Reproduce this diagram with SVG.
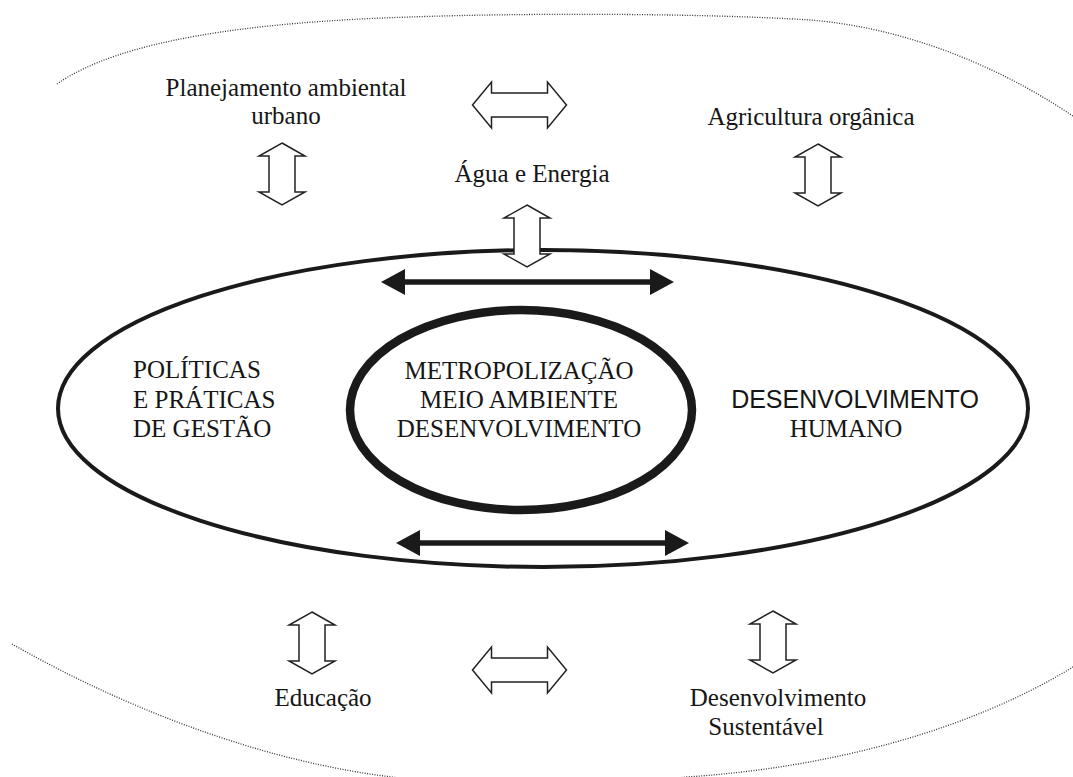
<svg xmlns="http://www.w3.org/2000/svg" width="1073" height="777" viewBox="0 0 1073 777">
<style>
.bg{fill:#ffffff}
.dot{fill:none;stroke:#333;stroke-width:1.3;stroke-dasharray:1 1.5}
.ell{fill:none;stroke:#1a1a1a}
.blk{fill:#ffffff;stroke:#222;stroke-width:1.5;stroke-linejoin:miter}
.thick{stroke:#1a1a1a;stroke-width:5.5;fill:none}
.t{font-family:"Liberation Serif","Times New Roman",serif;font-size:25px;fill:#161616}
.s{font-family:"Liberation Sans",Arial,sans-serif;font-size:25px;fill:#161616}
.m{text-anchor:middle}
</style>
<defs>
<path id="varrow" d="M0,-31 L23,-18 L13,-18 L13,18 L23,18 L0,31 L-23,18 L-13,18 L-13,-18 L-23,-18 Z"/>
<path id="harrow" d="M-47,0 L-28,-23 L-28,-12 L28,-12 L28,-23 L47,0 L28,23 L28,12 L-28,12 L-28,23 Z"/>
<marker id="head" markerUnits="userSpaceOnUse" markerWidth="24" markerHeight="26" viewBox="0 0 24 26" refX="0" refY="13" orient="auto-start-reverse">
<path d="M0,0 L24,13 L0,26 Z" fill="#1a1a1a"/>
</marker>
</defs>
<rect class="bg" x="0" y="0" width="1073" height="777"/>

<g id="outer-boundary">
<path class="dot" d="M57,84 C120,40 250,22 410,17 C520,13 700,13 810,20 C910,28 1010,70 1090,128"/>
<path class="dot" d="M12,644 C110,700 250,760 392,777 C480,788 600,788 686,777 C830,768 970,730 1073,667 L1090,657"/>
</g>

<g id="outer-ellipse">
<ellipse class="ell" cx="543" cy="408.5" rx="485" ry="158.5" stroke-width="4"/>
</g>

<g id="inner-ellipse">
<ellipse class="ell" cx="521" cy="410" rx="171" ry="100" stroke-width="8.5"/>
</g>

<g id="connectors">
<use href="#varrow" class="blk" transform="translate(282,174)"/>
<use href="#varrow" class="blk" transform="translate(818,175)"/>
<use href="#varrow" class="blk" transform="translate(527,236)"/>
<use href="#varrow" class="blk" transform="translate(312,643)"/>
<use href="#varrow" class="blk" transform="translate(773,642)"/>
<use href="#harrow" class="blk" transform="translate(519.5,105)"/>
<use href="#harrow" class="blk" transform="translate(519.5,670)"/>
<line class="thick" x1="405" y1="282" x2="650" y2="282" marker-start="url(#head)" marker-end="url(#head)"/>
<line class="thick" x1="420" y1="543" x2="665" y2="543" marker-start="url(#head)" marker-end="url(#head)"/>
</g>

<g id="node-planejamento">
<text class="t m" x="286" y="96">Planejamento ambiental</text>
<text class="t m" x="286" y="124">urbano</text>
</g>
<g id="node-agricultura">
<text class="t m" x="811" y="125">Agricultura orgânica</text>
</g>
<g id="node-agua">
<text class="t m" x="532" y="182">Água e Energia</text>
</g>
<g id="node-politicas">
<text class="t" x="133" y="378">POLÍTICAS</text>
<text class="t" x="133" y="408">E PRÁTICAS</text>
<text class="t" x="133" y="437">DE GESTÃO</text>
</g>
<g id="node-centro">
<text class="t m" x="519" y="379">METROPOLIZAÇÃO</text>
<text class="t m" x="519" y="408">MEIO AMBIENTE</text>
<text class="t m" x="519" y="437">DESENVOLVIMENTO</text>
</g>
<g id="node-humano">
<text class="s m" x="855" y="408">DESENVOLVIMENTO</text>
<text class="t m" x="846" y="437">HUMANO</text>
</g>
<g id="node-educacao">
<text class="t m" x="323" y="706">Educação</text>
</g>
<g id="node-sustentavel">
<text class="t m" x="778" y="706">Desenvolvimento</text>
<text class="t m" x="766" y="735">Sustentável</text>
</g>
</svg>
